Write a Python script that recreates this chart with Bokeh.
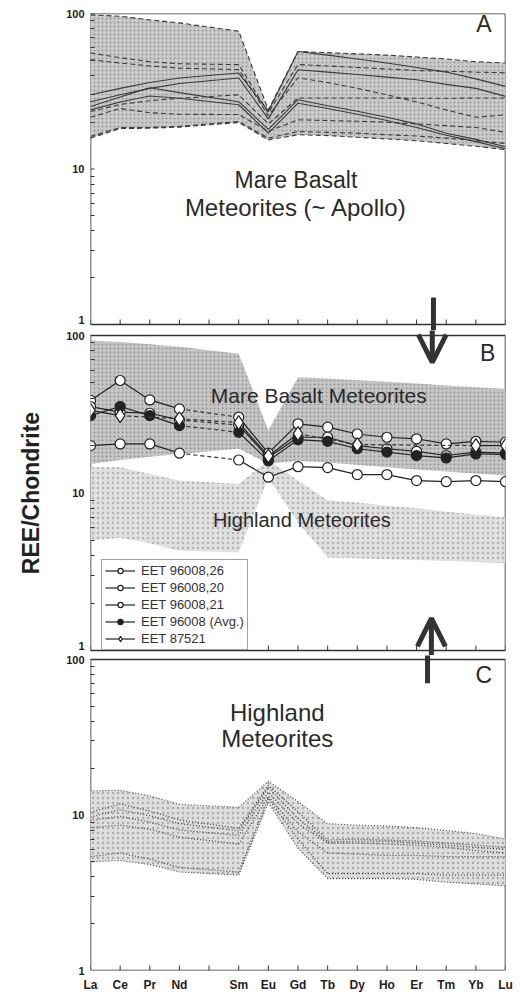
import math
from bokeh.plotting import figure
from bokeh.layouts import column
from bokeh.models import (Range1d, FixedTicker, Label, Arrow, OpenHead, Legend, LegendItem)
from bokeh.embed import file_html
from bokeh.resources import INLINE

N = None
ELEMENTS = ["La", "Ce", "Pr", "Nd", "Pm", "Sm", "Eu", "Gd", "Tb", "Dy", "Ho", "Er", "Tm", "Yb", "Lu"]
TICK_LABELS = ["La", "Ce", "Pr", "Nd", "", "Sm", "Eu", "Gd", "Tb", "Dy", "Ho", "Er", "Tm", "Yb", "Lu"]
X = list(range(len(ELEMENTS)))
Y_MINOR = [2, 3, 4, 5, 6, 7, 8, 9, 20, 30, 40, 50, 60, 70, 80, 90]
PANEL_X = (0, 14)
PANEL_Y = (1, 100)

# ---- Panel A: mare basalt field and samples ----
A_UPPER = [98, 96, 91, 87, N, 77, 24, 57, 56, 55, 54, 52.5, 51, 49, 48]
A_LOWER = [15.8, 18.2, 18.3, 18.6, N, 19.9, 15.4, 16.6, 16.4, 16.0, 15.6, 15.2, 14.6, 14.0, 13.3]
A_SOLID = [
    [30.0, 33.0, 36.0, 38.5, N, 41.4, 23.5, 57.0, 54.0, 51.0, 48.0, 45.0, 42.0, 38.0, 34.0],
    [27.1, 30.0, 33.0, 35.5, N, 38.5, 21.0, 43.5, 42.0, 40.5, 39.0, 37.5, 35.0, 33.0, 29.3],
    [25.2, 29.0, 33.3, 31.0, N, 27.1, 18.0, 27.9, 25.5, 23.5, 21.5, 19.5, 17.0, 15.5, 13.9],
    [24.0, 27.0, 29.5, 28.5, N, 25.9, 17.0, 26.5, 24.5, 22.5, 20.5, 18.5, 16.5, 15.0, 13.5],
]
A_DASHED = [
    [55.8, 52.0, 49.0, 47.5, N, 46.9, 23.0, 47.0, 46.0, 45.0, 44.0, 43.0, 42.5, 42.0, 41.6],
    [50.5, 48.0, 46.0, 44.5, N, 43.6, 22.0, 38.6, 36.0, 33.0, 30.0, 27.0, 24.0, 21.5, 22.3],
    [23.4, 26.0, 27.5, 28.5, N, 30.0, 19.5, 28.6, 28.6, 28.6, 28.6, 28.5, 28.5, 28.6, 28.6],
    [21.5, 24.5, 23.0, 22.5, N, 22.4, 17.5, 20.7, 20.5, 20.3, 20.0, 19.5, 19.0, 18.5, 17.2],
    [16.2, 18.5, 18.5, 18.8, N, 20.2, 15.8, 17.4, 17.2, 17.0, 16.6, 16.3, 15.8, 15.2, 14.6],
]

# ---- Panel B: fields and EET samples ----
B_MARE_UPPER = [93, 91, 88, 85, N, 76.5, 24.9, 54.4, 53.3, 52.0, 50.8, 49.5, 48.2, 47.0, 45.8]
B_MARE_LOWER = [15.3, 16.2, 17.0, 17.7, N, 19.1, 15.3, 16.0, 15.6, 15.1, 14.6, 14.1, 13.7, 13.3, 12.9]
B_HIGH_UPPER = [14.6, 14.6, 13.2, 12.0, N, 11.4, 16.1, 12.0, 9.0, 8.7, 8.3, 8.0, 7.6, 7.3, 7.0]
B_HIGH_LOWER = [5.0, 5.2, 4.8, 4.3, N, 4.2, 12.5, 6.5, 3.9, 3.85, 3.8, 3.75, 3.7, 3.65, 3.6]

SERIES_NAMES = ["EET 96008,26", "EET 96008,20", "EET 96008,21", "EET 96008 (Avg.)", "EET 87521"]
S26 = [38.7, 51.8, 39.0, 34.2, N, 30.3, 17.9, 27.5, 26.2, 23.7, 22.6, 22.1, 20.5, 21.3, 21.0]
S20 = [35.4, 32.6, 32.1, 29.1, N, 27.0, 16.8, 22.6, 22.6, 20.0, 19.1, 18.4, 17.3, 18.2, 17.9]
S21 = [20.0, 20.5, 20.5, 17.9, N, 16.2, 12.6, 14.7, 14.5, 13.1, 13.1, 12.0, 11.8, 12.0, 11.8]
SAVG = [31.0, 35.4, 31.0, 26.8, N, 24.3, 16.0, 21.8, 21.3, 19.1, 18.2, 17.3, 16.7, 17.7, 17.6]
S87521 = [33.5, 31.0, N, 29.6, N, 28.0, 17.2, 23.8, N, 20.3, N, N, N, 20.0, 20.0]

# ---- Panel C: highland field and samples ----
C_UPPER = [14.3, 14.4, 13.3, 11.7, N, 11.2, 16.5, 12.2, 8.8, 8.6, 8.5, 8.3, 7.95, 7.6, 7.0]
C_LOWER = [5.0, 5.1, 4.8, 4.3, N, 4.1, 12.0, 6.1, 3.9, 3.9, 3.9, 3.85, 3.7, 3.6, 3.5]
C_LINES = [
    [10.4, 11.8, 10.6, 9.3, N, 8.2, 15.5, 10.5, 6.9, 7.0, 6.9, 6.8, 6.6, 6.4, 6.2],
    [9.7, 10.8, 9.9, 8.8, N, 7.9, 15.0, 9.5, 6.7, 6.8, 6.8, 6.6, 6.4, 6.2, 6.0],
    [9.2, 9.8, 9.0, 8.0, N, 7.4, 14.0, 8.8, 6.6, 6.6, 6.5, 6.4, 6.2, 5.9, 5.7],
    [8.3, 8.6, 8.1, 7.2, N, 6.5, 13.2, 7.8, 5.7, 5.6, 5.5, 5.5, 5.4, 5.4, 5.4],
    [5.4, 5.7, 5.2, 4.6, N, 4.3, 12.8, 7.0, 4.2, 4.2, 4.2, 4.2, 4.1, 4.1, 4.1],
]

FONT = "Liberation Sans"
INK = "#333333"


def pts(vals):
    xs = [x for x, v in zip(X, vals) if v is not None]
    ys = [v for v in vals if v is not None]
    return xs, ys


def make_fig(height, left, right, top, bottom, ylo, yhi, one_pos, x_labels):
    p = figure(width=521, height=height, y_axis_type="log",
               x_range=Range1d(*PANEL_X), y_range=Range1d(ylo, yhi),
               output_backend="svg", toolbar_location=None,
               min_border_left=left, min_border_right=right,
               min_border_top=top, min_border_bottom=bottom)
    p.xgrid.visible = False
    p.ygrid.visible = False
    p.outline_line_color = None
    p.background_fill_color = "white"
    p.border_fill_color = "white"
    xa = p.xaxis[0]
    if x_labels:
        shown = [i for i, t in enumerate(TICK_LABELS) if t]
        xa.ticker = FixedTicker(ticks=shown)
        xa.major_label_overrides = {i: TICK_LABELS[i] for i in shown}
        xa.major_tick_in = 0
        xa.major_tick_out = 0
        xa.minor_tick_in = 0
        xa.minor_tick_out = 0
        xa.axis_line_color = None
        xa.major_label_standoff = 7
        xa.major_label_text_font = FONT
        xa.major_label_text_font_style = "bold"
        xa.major_label_text_font_size = "12px"
        xa.major_label_text_color = "#222222"
    else:
        xa.visible = False
    # panel box
    p.quad(left=[PANEL_X[0]], right=[PANEL_X[1]], bottom=[PANEL_Y[0]], top=[PANEL_Y[1]],
           fill_color=None, line_color=INK, line_width=1.6)
    # element tick marks along the bottom of each panel
    p.ray(x=X, y=[PANEL_Y[0]] * len(X), length=5, length_units="screen",
          angle=math.pi / 2, line_color=INK, line_width=1)
    # short major ticks on the left edge at 10 and 100
    p.ray(x=[PANEL_X[0]] * 2, y=[10, 100], length=4, length_units="screen",
          angle=0, line_color=INK, line_width=1)
    ya = p.yaxis[0]
    # the "1" label of the top two panels sits slightly above its tick, as in the original
    ya.ticker = FixedTicker(ticks=[one_pos, 10, 100], minor_ticks=Y_MINOR)
    ya.major_label_overrides = {one_pos: "1", 10: "10", 100: "100"}
    ya.major_tick_in = 0
    ya.major_tick_out = 0
    ya.minor_tick_in = 4
    ya.minor_tick_out = 0
    ya.axis_line_color = None
    ya.minor_tick_line_color = INK
    ya.major_label_standoff = 6
    ya.major_label_text_font = FONT
    ya.major_label_text_font_style = "bold"
    ya.major_label_text_font_size = "11px"
    ya.major_label_text_color = "#222222"
    return p


def field(p, lower, upper, color, dots, scale, line_dash=None, line_color=None):
    xs, lo = pts(lower)
    _, hi = pts(upper)
    p.varea(x=xs, y1=lo, y2=hi, fill_color=color, fill_alpha=1.0,
            hatch_pattern="dot", hatch_color=dots, hatch_scale=scale, hatch_weight=1.2,
            hatch_alpha=0.8)
    if line_dash is not None:
        p.line(xs, hi, line_color=line_color, line_dash=line_dash, line_width=1.1)
        p.line(xs, lo, line_color=line_color, line_dash=line_dash, line_width=1.1)


def label(p, text, x, y, size):
    p.add_layout(Label(x=x, y=y, text=text, text_font=FONT, text_font_size=size,
                       text_color="#2a2a2a", text_align="center", text_baseline="middle"))


def arrow(p, x, y0, y1, head):
    p.add_layout(Arrow(end=OpenHead(size=28, line_width=5, line_color=INK) if head else None,
                       x_start=x, y_start=y0, x_end=x, y_end=y1,
                       line_width=5, line_color=INK))


# ================= Panel A =================
pa = make_fig(330, 85, 16, 13, 0, 0.915, 100, 1.07, False)
field(pa, A_LOWER, A_UPPER, "#cacaca", "#8a8a8a", 4, line_dash="5 3", line_color="#3a3a3a")
for s in A_SOLID:
    xs, ys = pts(s)
    pa.line(xs, ys, line_color="#3a3a3a", line_width=1.1)
for s in A_DASHED:
    xs, ys = pts(s)
    pa.line(xs, ys, line_color="#3a3a3a", line_width=1.1, line_dash="5 3")
label(pa, "A", 13.27, 85, "23px")
label(pa, "Mare Basalt", 6.93, 8.49, "23px")
label(pa, "Meteorites (~ Apollo)", 6.93, 5.69, "24px")
arrow(pa, 11.57, 1.49, 0.5, False)

# ================= Panel B =================
pb = make_fig(325, 86, 14, 0, 0, 0.930, 107.6, 1.07, False)
field(pb, B_HIGH_LOWER, B_HIGH_UPPER, "#e0e0e0", "#a8a8a8", 5)
field(pb, B_MARE_LOWER, B_MARE_UPPER, "#c6c6c6", "#858585", 4)
label(pb, "Mare Basalt Meteorites", 7.7, 41.6, "21px")
label(pb, "Highland Meteorites", 7.13, 6.79, "20px")
label(pb, "B", 13.4, 76.9, "23px")

items = []
styles = [("circle", "white", 10), ("circle", "white", 10), ("circle", "white", 10),
          ("circle", "#222222", 10), ("diamond", "white", 14)]
for name, vals, (mk, fc, sz) in zip(SERIES_NAMES, [S26, S20, S21, SAVG, S87521], styles):
    xs, ys = pts(vals)
    sx, sy, dx, dy = [], [], [], []
    for i in range(len(xs) - 1):
        if xs[i + 1] - xs[i] == 1:
            sx.append([xs[i], xs[i + 1]]); sy.append([ys[i], ys[i + 1]])
        else:
            dx.append([xs[i], xs[i + 1]]); dy.append([ys[i], ys[i + 1]])
    r_solid = pb.multi_line(sx, sy, line_color="#222222", line_width=1.2)
    if dx:
        pb.multi_line(dx, dy, line_color="#333333", line_width=1.2, line_dash="4 3")
    r_pts = pb.scatter(xs, ys, marker=mk, size=sz, fill_color=fc,
                       line_color="#222222", line_width=1.2)
    items.append(LegendItem(label=name, renderers=[r_solid, r_pts]))

legend = Legend(items=items, location=(11, 5), label_text_font=FONT,
                label_text_font_size="13px", label_text_color="#333333",
                glyph_width=30, glyph_height=13, label_height=15, spacing=2,
                padding=3, margin=0, label_standoff=6,
                border_line_color="#444444", border_line_width=1,
                background_fill_color="white", background_fill_alpha=1)
pb.add_layout(legend)

pb.yaxis[0].axis_label = "REE/Chondrite"
pb.yaxis[0].axis_label_text_font = FONT
pb.yaxis[0].axis_label_text_font_style = "bold"
pb.yaxis[0].axis_label_text_font_size = "23px"
pb.yaxis[0].axis_label_text_color = "#222222"
pb.yaxis[0].axis_label_standoff = 19

arrow(pb, 11.53, 1000, 67.4, True)
arrow(pb, 11.5, 0.5, 1.6, True)

# ================= Panel C =================
pc = make_fig(339, 90, 12, 0, 21, 1, 106.1, 1, True)
field(pc, C_LOWER, C_UPPER, "#dedede", "#a0a0a0", 5, line_dash="1 2", line_color="#444444")
for s in C_LINES:
    xs, ys = pts(s)
    pc.line(xs, ys, line_color="#444444", line_width=1.3, line_dash="1 2")
label(pc, "C", 13.27, 80, "23px")
label(pc, "Highland", 6.3, 45.9, "24px")
label(pc, "Meteorites", 6.3, 30.9, "24px")
arrow(pc, 11.37, 70.3, 1000, False)

layout = column(pa, pb, pc, spacing=0)
open("out.html", "w").write(file_html(layout, INLINE))
